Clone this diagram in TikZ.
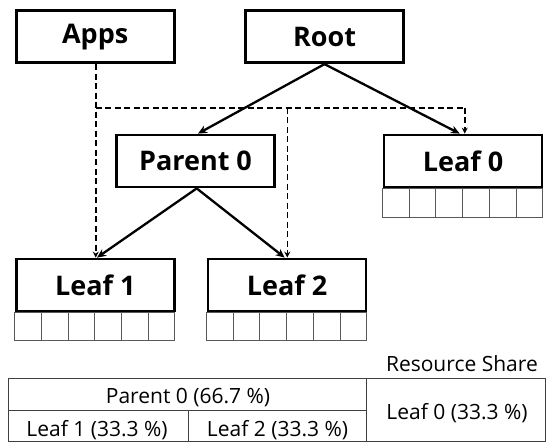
\documentclass[tikz,border=0pt]{standalone}
\usepackage{fontspec}
\setmainfont{Open Sans}
\usetikzlibrary{arrows.meta,calc}
\begin{document}
\begin{tikzpicture}[x=1pt,y=-1pt,
  box/.style={draw,line width=2.8pt,minimum width=158pt,minimum height=52pt,inner sep=0pt,
    font=\fontsize{27}{30}\bfseries\selectfont},
  cell/.style={draw=black!65,line width=0.9pt},
  solidarr/.style={line width=2.3pt,-{Stealth[length=9pt,width=8pt]}},
  dasharr/.style={line width=1.6pt,dash pattern=on 6pt off 3.5pt,-{Stealth[length=6pt,width=6pt]}},
  dashln/.style={line width=1.6pt,dash pattern=on 6pt off 3.5pt},
  tabline/.style={draw=black!75,line width=1pt},
  tab/.style={font=\fontsize{21}{24}\selectfont,inner sep=0pt,anchor=base}]
\useasboundingbox (0,0) rectangle (546,442);
\node[box] (apps) at (95.2,36.7) {Apps};
\node[box] (root) at (324.5,36.7) {Root};
\node[box] (parent) at (195.5,161) {Parent 0};
\node[box] (leaf0) at (463,161) {Leaf 0};
\node[box] (leaf1) at (95.3,285) {Leaf 1};
\node[box] (leaf2) at (287,285) {Leaf 2};
% resource cells
\foreach \n/\h in {leaf0/29,leaf1/28,leaf2/28}{
  \foreach \i in {0,...,5}{
    \draw[cell] ($(\n.south west)+(\i*26.67,0)$) rectangle ++(26.67,\h);
  }
}
% solid arrows
\draw[solidarr] (root.south) -- ($(parent.north)+(2.5,0)$);
\draw[solidarr] (root.south) -- ($(leaf0.north)+(-3.3,0)$);
\draw[solidarr] ($(parent.south)+(1.2,0)$) -- ($(leaf1.north)+(1.7,0)$);
\draw[solidarr] ($(parent.south)+(1.2,0)$) -- ($(leaf2.north)+(-2.3,0)$);
% dashed
\coordinate (ja) at (95.7,107.7);
\coordinate (jb) at (287.3,107.7);
\coordinate (jc) at (464.7,107.7);
\draw[dasharr] ($(apps.south)+(0.5,0)$) -- ($(leaf1.north)+(0.4,0)$);
\draw[dashln] (ja) -- (jc);
\draw[dasharr] (jc) -- ($(leaf0.north)+(1.7,0)$);
\draw[dasharr] (jb) -- ($(leaf2.north)+(0.3,0)$);
% table
\draw[tabline] (8.3,378) rectangle (545,441.5);
\draw[tabline] (366.3,378) -- (366.3,441.5);
\draw[tabline] (8.3,410.7) -- (366.3,410.7);
\draw[tabline] (188.3,410.7) -- (188.3,441.5);
\node[tab,anchor=base east] (rs) at (538,371.7) {Resource Share};
\node[tab] (tp) at (188,403.3) {Parent 0 (66.7 \%)};
\node[tab] (t1) at (97,436.7) {Leaf 1 (33.3 \%)};
\node[tab] (t2) at (277.5,436.7) {Leaf 2 (33.3 \%)};
\node[tab] (t0) at (457,419.3) {Leaf 0 (33.3 \%)};
\end{tikzpicture}
\end{document}
